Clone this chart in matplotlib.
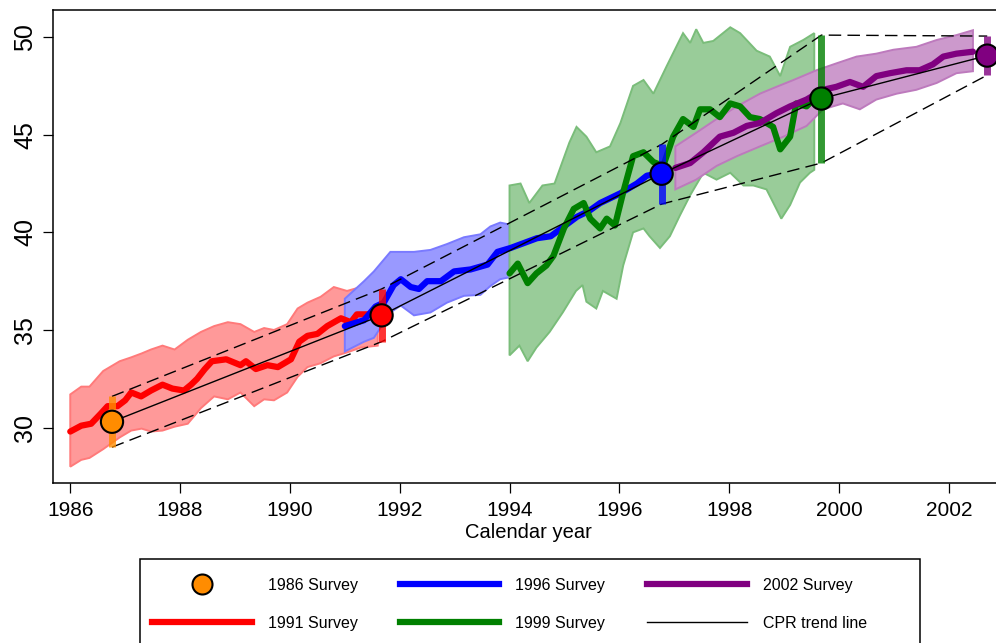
import numpy as np
import matplotlib
matplotlib.use("Agg")
import matplotlib.pyplot as plt
from matplotlib.lines import Line2D
from matplotlib.patches import Rectangle
from matplotlib.colors import to_rgb

plt.rcParams['font.family'] = ['Liberation Sans', 'DejaVu Sans']

# 1991 survey
red_years = [1986.0, 1986.2, 1986.38, 1986.55, 1986.68, 1986.86, 1987.0, 1987.11, 1987.29,
             1987.47, 1987.68, 1987.86, 1988.07, 1988.2, 1988.31, 1988.45, 1988.58, 1988.84,
             1989.1, 1989.2, 1989.38, 1989.59, 1989.78, 1990.02, 1990.17, 1990.32, 1990.5,
             1990.68, 1990.93, 1991.11, 1991.22, 1991.44, 1991.6]
red_cpr = [29.8, 30.1, 30.2, 30.7, 31.1, 31.1, 31.4, 31.8, 31.6, 31.9, 32.2, 32.0, 31.9, 32.2,
           32.5, 33.0, 33.4, 33.5, 33.2, 33.4, 33.0, 33.2, 33.1, 33.5, 34.4, 34.7, 34.8, 35.2,
           35.6, 35.4, 35.8, 35.8, 35.9]
red_band_years = [1986.0, 1986.2, 1986.35, 1986.6, 1986.9, 1987.11, 1987.3, 1987.47, 1987.68,
                  1987.9, 1988.14, 1988.38, 1988.62, 1988.87, 1989.1, 1989.35, 1989.53, 1989.71,
                  1989.95, 1990.14, 1990.32, 1990.56, 1990.8, 1991.04, 1991.29, 1991.6]
red_upper = [31.7, 32.1, 32.1, 32.9, 33.4, 33.6, 33.8, 34.0, 34.2, 34.0, 34.5, 34.9, 35.2, 35.4,
             35.3, 34.9, 35.1, 35.0, 35.3, 36.1, 36.4, 36.7, 37.2, 37.0, 37.2, 37.0]
red_lower = [28.0, 28.35, 28.45, 28.9, 29.5, 29.85, 29.95, 29.8, 29.85, 30.05, 30.2, 31.0, 31.6,
             31.45, 31.8, 31.1, 31.45, 31.4, 31.8, 32.6, 33.1, 33.3, 33.65, 33.85, 34.1, 34.2]

# 1996 survey
blue_years = [1991.0, 1991.35, 1991.56, 1991.71, 1991.89, 1992.02, 1992.2, 1992.35, 1992.5,
              1992.75, 1992.99, 1993.29, 1993.6, 1993.78, 1994.02, 1994.26, 1994.5, 1994.75,
              1994.99, 1995.23, 1995.45, 1995.65, 1996.02, 1996.32, 1996.5, 1996.7]
blue_cpr = [35.2, 35.5, 36.2, 36.4, 37.3, 37.6, 37.2, 37.1, 37.5, 37.5, 38.0, 38.1, 38.35, 39.0,
            39.2, 39.45, 39.7, 39.8, 40.3, 40.8, 41.1, 41.5, 42.0, 42.5, 42.9, 43.0]
blue_band_years = [1991.0, 1991.35, 1991.53, 1991.83, 1992.02, 1992.26, 1992.56, 1992.86,
                   1993.17, 1993.47, 1993.65, 1993.83, 1994.0]
blue_upper = [36.6, 37.5, 38.0, 39.0, 39.0, 39.0, 39.1, 39.4, 39.75, 39.9, 40.3, 40.5, 40.4]
blue_lower = [33.9, 34.4, 34.6, 35.9, 36.25, 35.75, 35.9, 36.4, 36.75, 36.8, 37.25, 37.6, 37.7]

# 1999 survey
green_years = [1994.0, 1994.15, 1994.33, 1994.49, 1994.67, 1994.8, 1994.99, 1995.17, 1995.35,
               1995.47, 1995.65, 1995.77, 1995.92, 1996.07, 1996.25, 1996.44, 1996.62, 1996.8,
               1996.98, 1997.16, 1997.35, 1997.47, 1997.65, 1997.83, 1998.02, 1998.2, 1998.38,
               1998.56, 1998.8, 1998.93, 1999.11, 1999.22, 1999.41, 1999.53]
green_cpr = [37.9, 38.4, 37.4, 37.9, 38.3, 38.8, 40.2, 41.2, 41.5, 40.7, 40.2, 40.7, 40.35, 42.05,
             43.9, 44.1, 43.6, 43.4, 44.9, 45.8, 45.4, 46.3, 46.3, 45.9, 46.6, 46.45, 45.9, 45.8,
             45.4, 44.25, 44.9, 46.6, 46.45, 46.8]
green_up_years = [1994.0, 1994.2, 1994.36, 1994.6, 1994.82, 1995.09, 1995.22, 1995.4, 1995.58,
                  1995.83, 1996.02, 1996.25, 1996.44, 1996.62, 1996.86, 1997.16, 1997.29, 1997.4,
                  1997.53, 1997.71, 1998.02, 1998.2, 1998.5, 1998.74, 1998.93, 1999.11, 1999.35,
                  1999.55]
green_upper = [42.4, 42.5, 41.5, 42.4, 42.5, 44.6, 45.4, 44.9, 44.1, 44.4, 45.6, 47.5, 47.8, 47.1,
               48.5, 50.2, 49.7, 50.4, 49.7, 49.8, 50.5, 50.2, 49.3, 49.0, 48.0, 49.5, 49.85, 50.2]
green_low_years = [1994.0, 1994.18, 1994.33, 1994.49, 1994.73, 1994.97, 1995.21, 1995.33, 1995.4,
                   1995.58, 1995.7, 1995.95, 1996.07, 1996.25, 1996.44, 1996.55, 1996.74, 1996.92,
                   1997.1, 1997.29, 1997.53, 1997.77, 1998.02, 1998.26, 1998.44, 1998.68, 1998.86,
                   1998.95, 1999.11, 1999.29, 1999.47, 1999.55]
green_lower = [33.7, 34.2, 33.4, 34.1, 34.9, 35.9, 37.0, 37.3, 36.45, 36.1, 37.0, 36.6, 38.3, 40.0,
               40.2, 39.8, 39.2, 39.8, 40.85, 41.9, 43.05, 42.7, 43.05, 42.4, 42.4, 42.2, 41.2,
               40.7, 41.4, 42.55, 43.05, 43.2]

# 2002 survey
purple_years = [1997.02, 1997.29, 1997.53, 1997.83, 1998.08, 1998.32, 1998.56, 1998.86, 1999.11,
                1999.41, 1999.71, 1999.95, 2000.2, 2000.44, 2000.68, 2000.93, 2001.23, 2001.47,
                2001.71, 2001.9, 2002.14, 2002.44]
purple_cpr = [43.3, 43.55, 44.1, 44.9, 45.1, 45.45, 45.6, 46.1, 46.45, 46.8, 47.3, 47.45, 47.7,
              47.45, 48.0, 48.15, 48.3, 48.3, 48.6, 49.0, 49.15, 49.25]
purple_up_years = [1997.02, 1997.4, 1997.77, 1998.14, 1998.56, 1998.86, 1999.17, 1999.59, 1999.95,
                   2000.32, 2000.68, 2000.99, 2001.41, 2001.78, 2002.14, 2002.44]
purple_upper = [44.4, 45.1, 45.8, 46.45, 47.1, 47.45, 47.8, 48.3, 48.65, 49.0, 49.15, 49.35, 49.5,
                49.85, 50.1, 50.35]
purple_low_years = [1997.02, 1997.4, 1997.77, 1998.14, 1998.56, 1998.99, 1999.41, 1999.71, 2000.07,
                    2000.38, 2000.68, 2001.05, 2001.41, 2001.78, 2002.14, 2002.44]
purple_lower = [42.2, 42.7, 43.4, 43.9, 44.4, 44.9, 45.45, 46.3, 46.6, 46.3, 46.8, 47.1, 47.3,
                47.65, 48.15, 48.25]

# survey point estimates with intervals
survey_years = [1986.76, 1991.67, 1996.77, 1999.68, 2002.70]
survey_cpr = [30.3, 35.75, 43.0, 46.85, 49.05]
survey_hi = [31.6, 37.1, 44.5, 50.1, 50.05]
survey_lo = [29.0, 34.4, 41.45, 43.55, 48.05]
survey_colors = ['darkorange', 'red', 'blue', 'green', 'purple']


def tint(c, a):
    # colour c laid over white with opacity a
    r = np.array(to_rgb(c))
    return tuple(1 - a * (1 - r))


fig = plt.figure(figsize=(9.96, 6.43), dpi=100)
ax = fig.add_axes([52.7 / 996, (643 - 483.3) / 643, 951 / 996, 473 / 643])

bands = [
    (red_band_years, red_upper, red_band_years, red_lower, 'red'),
    (blue_band_years, blue_upper, blue_band_years, blue_lower, 'blue'),
    (green_up_years, green_upper, green_low_years, green_lower, 'green'),
    (purple_up_years, purple_upper, purple_low_years, purple_lower, 'purple'),
]
for ux, uy, lx, ly, c in bands:
    px = np.r_[ux, lx[::-1]]
    py = np.r_[uy, ly[::-1]]
    ax.fill(px, py, facecolor=tint(c, 0.4), edgecolor=tint(c, 0.52), lw=1.4, zorder=1)

for xs, ys, c in [(red_years, red_cpr, 'red'), (blue_years, blue_cpr, 'blue'),
                  (green_years, green_cpr, 'green'), (purple_years, purple_cpr, 'purple')]:
    ax.plot(xs, ys, color=c, lw=4.5, solid_joinstyle='round', solid_capstyle='round', zorder=2)

ax.plot(survey_years, survey_cpr, color='black', lw=1.0, zorder=3)
ax.plot(survey_years, survey_hi, color='black', lw=1.0, dashes=(9, 4.5), zorder=3)
ax.plot(survey_years, survey_lo, color='black', lw=1.0, dashes=(9, 4.5), zorder=3)

ax.vlines(survey_years, survey_lo, survey_hi, colors=survey_colors, lw=5, alpha=0.8, zorder=4)
ax.scatter(survey_years, survey_cpr, s=16 ** 2, c=survey_colors, edgecolors='black',
           linewidths=1.5, zorder=5)

ax.set_xlim(1985.68, 2003.0)
ax.set_ylim(27.15, 51.37)
ax.set_xticks(range(1986, 2003, 2))
ax.set_yticks(range(30, 51, 5))
ax.spines['right'].set_visible(False)
for s in ['left', 'top', 'bottom']:
    ax.spines[s].set_linewidth(1.1)
ax.tick_params(axis='x', direction='out', length=7, width=0.9, labelsize=15, pad=6)
ax.tick_params(axis='y', direction='out', length=7, width=0.9, labelsize=18, pad=4)
for lab in ax.get_yticklabels():
    lab.set_rotation(90)
    lab.set_va('center')
ax.set_xlabel('Calendar year', fontsize=14.5, labelpad=2)

# legend
handles = [
    Line2D([], [], ls='none', marker='o', markersize=14.4, markerfacecolor='darkorange',
           markeredgecolor='black', markeredgewidth=1.5),
    Line2D([], [], color='red', lw=4.5),
    Line2D([], [], color='blue', lw=4.5),
    Line2D([], [], color='green', lw=4.5),
    Line2D([], [], color='purple', lw=4.5),
    Line2D([], [], color='black', lw=1.0),
]
labels = ['1986 Survey', '1991 Survey', '1996 Survey', '1999 Survey', '2002 Survey',
          'CPR trend line']
fig.legend(handles, labels, ncol=3, loc='upper left',
           bbox_to_anchor=(152 / 996, 1 - 578 / 643), bbox_transform=fig.transFigure,
           frameon=False, fontsize=11.5, handlelength=6.25, handletextpad=1.0,
           columnspacing=2.62, labelspacing=1.42, borderpad=0, borderaxespad=0, numpoints=1)
fig.add_artist(Rectangle((140 / 996, -0.1), 780 / 996, (643 - 559) / 643 + 0.1,
                         transform=fig.transFigure, fill=False, lw=1.1, edgecolor='black'))

fig.savefig('out.png', dpi=100)
